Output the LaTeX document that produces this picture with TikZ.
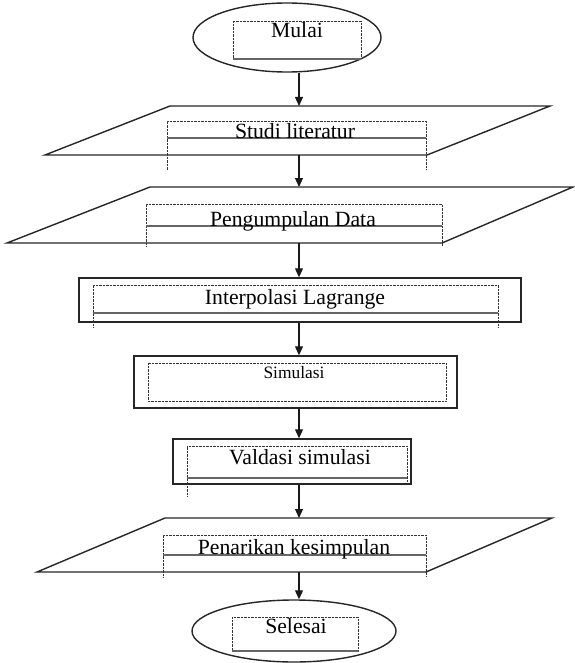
\documentclass[tikz,border=0pt]{standalone}
\usepackage{fontspec}
\setmainfont{Liberation Serif}
\usetikzlibrary{shapes.geometric,arrows.meta}
\tikzset{
 shapeline/.style={draw=black!85, line width=1.4pt},
 ovalbox/.style={ellipse, shapeline, inner sep=0pt},
 procbox/.style={rectangle, shapeline, inner sep=0pt},
 parabox/.style={rectangle, draw=none, inner sep=0pt, outer sep=0pt},
 tbox/.style={draw=black!80, line width=0.5pt, dash pattern=on 0.5pt off 0.9pt},
 tline/.style={draw=black!60, line width=1.4pt, dash pattern=on 0.5pt off 0.5pt},
 lbl/.style={anchor=base, inner sep=0pt, font=\fontsize{21.7pt}{26pt}\selectfont},
 lblsmall/.style={anchor=base, inner sep=0pt, font=\fontsize{17.4pt}{21pt}\selectfont},
 arr/.style={draw=black!90, line width=1.1pt, -{Triangle[length=9pt,width=8pt]}},
}
\newcommand\paraoutline[3]{\draw[shapeline] ([xshift=#2]#1.north west) -- (#1.north east) -- ([xshift=-#3]#1.south east) -- (#1.south west) -- cycle;}
\begin{document}
\begin{tikzpicture}[x=1pt,y=-1pt]
\useasboundingbox (0,0) rectangle (574,663);
\coordinate (ax) at (299,0);
% shapes
\node[ovalbox, minimum width=188pt, minimum height=69pt] (mulai) at (287,37.5) {};
\node[parabox, minimum width=505pt, minimum height=49pt] (studi) at (297.5,130.5) {};
\paraoutline{studi}{125pt}{123pt}
\node[parabox, minimum width=566pt, minimum height=56pt] (kumpul) at (290,215) {};
\paraoutline{kumpul}{143pt}{131pt}
\node[procbox, minimum width=442pt, minimum height=44pt] (interp) at (300,300) {};
\node[procbox, minimum width=323pt, minimum height=52pt] (simul) at (295.5,382) {};
\node[procbox, minimum width=238pt, minimum height=45pt] (valid) at (292,461.5) {};
\node[parabox, minimum width=515pt, minimum height=54pt] (tarik) at (294.5,545) {};
\paraoutline{tarik}{128pt}{126pt}
\node[ovalbox, minimum width=204pt, minimum height=62pt] (selesai) at (294,631) {};
% dotted text frames
\draw[tbox] (233,21) rectangle (361,59);
\draw[tline] (233,59) -- (361,59);
\draw[tbox] (167,170) -- (167,121) -- (426,121) -- (426,170);
\draw[tline] (167,138) -- (426,138);
\draw[tbox] (146,246) -- (146,204) -- (442,204) -- (442,246);
\draw[tline] (146,226) -- (442,226);
\draw[tbox] (93,327) -- (93,285) -- (498,285) -- (498,327);
\draw[tline] (93,313) -- (498,313);
\draw[tbox] (148,363) rectangle (446,401);
\draw[tbox] (187,496) -- (187,446) -- (407,446) -- (407,482);
\draw[tline] (187,478) -- (407,478);
\draw[tbox] (163,577) -- (163,535) -- (426,535) -- (426,577);
\draw[tline] (163,555) -- (426,555);
\draw[tbox] (232,617) rectangle (358,651);
\draw[tline] (232,651) -- (358,651);
% labels
\node[lbl] (tmulai) at (297,38) {Mulai};
\node[lbl] (tstudi) at (295,139) {Studi literatur};
\node[lbl] (tkumpul) at (293,226) {Pengumpulan Data};
\node[lbl] (tinterp) at (295,304) {Interpolasi Lagrange};
\node[lblsmall] (tsimul) at (294,378) {Simulasi};
\node[lbl] (tvalid) at (300,464) {Valdasi simulasi};
\node[lbl] (ttarik) at (294,554) {Penarikan kesimpulan};
\node[lbl] (tselesai) at (296,633) {Selesai};
% connectors
\draw[arr] (mulai.south -| ax) -- (studi.north -| ax);
\draw[arr] (studi.south -| ax) -- (kumpul.north -| ax);
\draw[arr] (kumpul.south -| ax) -- (interp.north -| ax);
\draw[arr] (interp.south -| ax) -- (simul.north -| ax);
\draw[arr] (simul.south -| ax) -- (valid.north -| ax);
\draw[arr] (valid.south -| ax) -- (tarik.north -| ax);
\draw[arr] (tarik.south -| ax) -- (selesai.north -| ax);
\end{tikzpicture}
\end{document}
